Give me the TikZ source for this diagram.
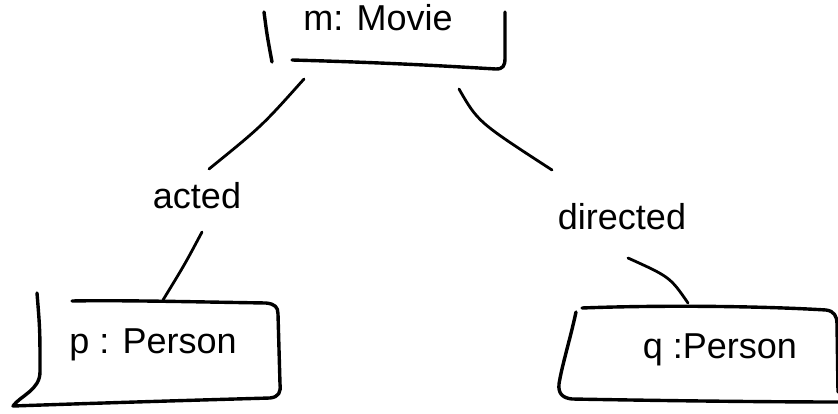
\documentclass[tikz,border=0pt]{standalone}
\usepackage{fontspec}
\setmainfont{Liberation Sans}
\usetikzlibrary{positioning, calc}

\tikzset{
    frame/.style={line width=3.4pt, line cap=round, line join=round},
    link/.style={line width=2.8pt, line cap=round},
    label/.style={font=\fontsize{36}{40}\selectfont, inner sep=0pt}
}

\begin{document}
\begin{tikzpicture}[x=1pt, y=-1pt]

    \useasboundingbox (0,0) rectangle (838,414);

    % --- Entity and relation labels ---
    \node[label] (m) at (378,18) {m: Movie};
    \node[label] (acted) at (197,196) {acted};
    \node[label] (directed) at (622,217) {directed};
    \node[label] (p) at (153,345) {p : Person};
    \node[label] (q) at (720,350) {q :Person};

    % --- Top box (m: Movie) ---
    % left stroke drawn apart from the rest of the box
    \draw[frame] (264,12) .. controls (267,35) .. (272,62);
    \draw[frame] (292,60) .. controls (400,63) and (460,67) .. (496,69)
                 .. controls (503,69) and (505,66) .. (505,58) -- (505,12);

    % --- Left box (p : Person) ---
    \draw[frame] (37,293) .. controls (40,330) .. (40,372)
                 .. controls (40,390) and (20,396) .. (13,406)
                 .. controls (100,403) and (200,400) .. (270,398)
                 .. controls (279,397) and (281,392) .. (280,384)
                 -- (278,314) .. controls (278,307) and (275,304) .. (266,303)
                 .. controls (200,302) and (120,300) .. (72,301);

    % --- Right box (q :Person) ---
    \draw[frame] (582,308) .. controls (660,305) and (760,306) .. (826,310)
                 .. controls (834,311) and (837,316) .. (837,324) -- (838,392);
    \draw[frame] (576,312) .. controls (570,340) and (562,365) .. (559,384)
                 .. controls (558,394) and (563,398) .. (572,399)
                 .. controls (680,401) and (780,402) .. (838,402);

    % --- Connectors, broken around the relation labels ---
    \draw[link] ($(m)+(-74,61)$) .. controls ($(m)+(-116,108)$) .. ($(acted)+(12,-27)$);
    \draw[link] ($(acted)+(5,36)$) .. controls ($(acted)+(-12,68)$) .. ($(p)+(10,-45)$);
    \draw[link] ($(m)+(81,71)$) .. controls ($(m)+(100,104)$) .. ($(directed)+(-70,-47)$);
    \draw[link] ($(directed)+(6,41)$) .. controls ($(directed)+(48,60)$) .. ($(q)+(-32,-47)$);

\end{tikzpicture}
\end{document}
